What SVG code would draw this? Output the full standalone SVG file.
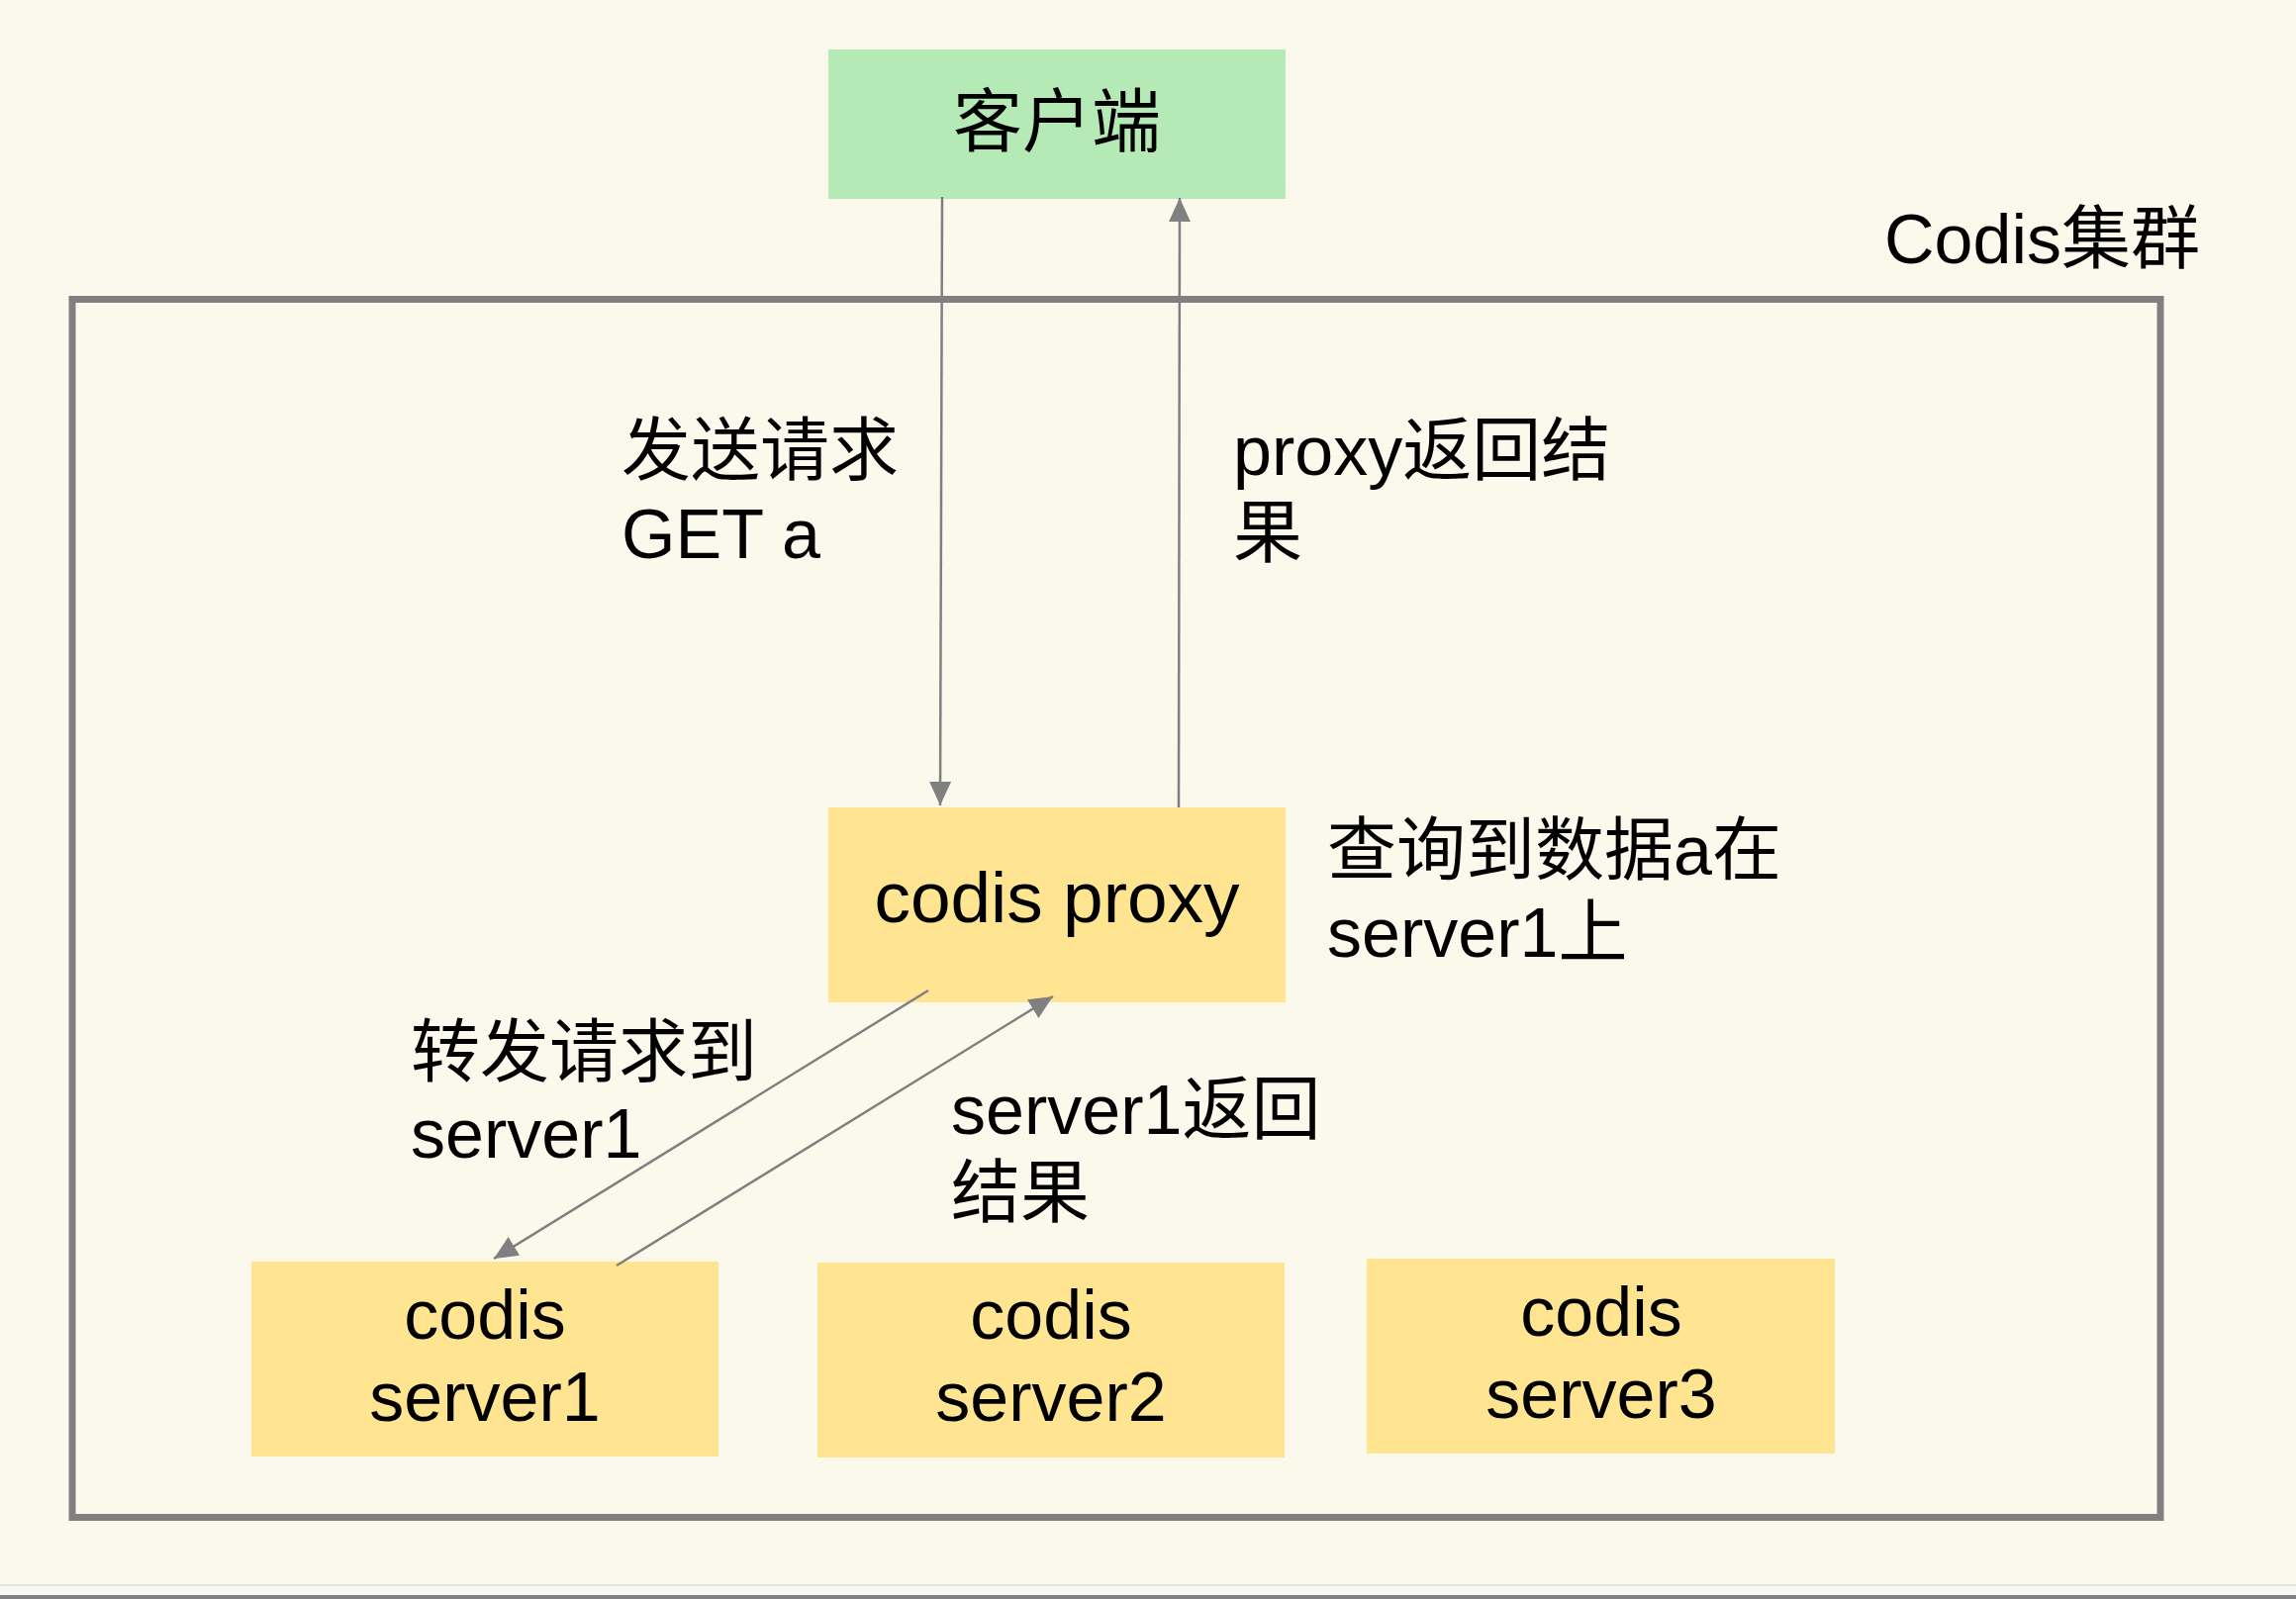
<svg xmlns="http://www.w3.org/2000/svg" width="2320" height="1616" viewBox="0 0 2320 1616">
<defs>
<style>
.t{font-family:"Liberation Sans","Noto Sans CJK SC",sans-serif;font-size:70px;fill:#000}
.c{text-anchor:middle}
.y{fill:#ffe591}
.ln{stroke:#808080;stroke-width:2.5;fill:none}
</style>
<marker id="ah" viewBox="0 0 24 22" refX="24" refY="11" markerWidth="24" markerHeight="22" markerUnits="userSpaceOnUse" orient="auto">
<path d="M0,0 L24,11 L0,22 Z" fill="#808080"/>
</marker>
</defs>
<rect x="0" y="0" width="2320" height="1616" fill="#fbf9ec"/>
<rect x="0" y="1601" width="2320" height="2" fill="#e3e3e0"/>
<rect x="0" y="1603" width="2320" height="9" fill="#f7f7f5"/>
<rect x="0" y="1612" width="2320" height="4" fill="#808080"/>
<g id="cluster">
<rect x="73" y="302.5" width="2110" height="1231" fill="none" stroke="#808080" stroke-width="7"/>
<text class="t" x="1904" y="266">Codis集群</text>
</g>
<g id="client">
<rect x="837" y="50" width="462" height="151" fill="#b5e9b6"/>
<text class="t c" x="1068" y="148">客户端</text>
</g>
<g id="proxy">
<rect class="y" x="837" y="816" width="462" height="197"/>
<text class="t c" x="1068" y="932" style="font-size:73px">codis proxy</text>
</g>
<g id="server1">
<rect class="y" x="254" y="1275" width="472" height="197"/>
<text class="t c" x="490" y="1353">codis</text>
<text class="t c" x="490" y="1436">server1</text>
</g>
<g id="server2">
<rect class="y" x="826" y="1276" width="472" height="197"/>
<text class="t c" x="1062" y="1353">codis</text>
<text class="t c" x="1062" y="1436">server2</text>
</g>
<g id="server3">
<rect class="y" x="1381" y="1272" width="473" height="197"/>
<text class="t c" x="1618" y="1350">codis</text>
<text class="t c" x="1618" y="1433">server3</text>
</g>
<g id="connectors">
<line class="ln" x1="952" y1="199" x2="950" y2="814" marker-end="url(#ah)"/>
<line class="ln" x1="1191" y1="816" x2="1192" y2="200" marker-end="url(#ah)"/>
<line class="ln" x1="938" y1="1001" x2="499" y2="1272" marker-end="url(#ah)"/>
<line class="ln" x1="623" y1="1279" x2="1064" y2="1007" marker-end="url(#ah)"/>
</g>
<g id="labels">
<text class="t" x="628" y="480">发送请求</text>
<text class="t" x="628" y="564">GET a</text>
<text class="t" x="1246" y="480">proxy返回结</text>
<text class="t" x="1246" y="563">果</text>
<text class="t" x="1341" y="884">查询到数据a在</text>
<text class="t" x="1341" y="967">server1上</text>
<text class="t" x="415" y="1088">转发请求到</text>
<text class="t" x="415" y="1170">server1</text>
<text class="t" x="961" y="1146">server1返回</text>
<text class="t" x="961" y="1230">结果</text>
</g>
</svg>
